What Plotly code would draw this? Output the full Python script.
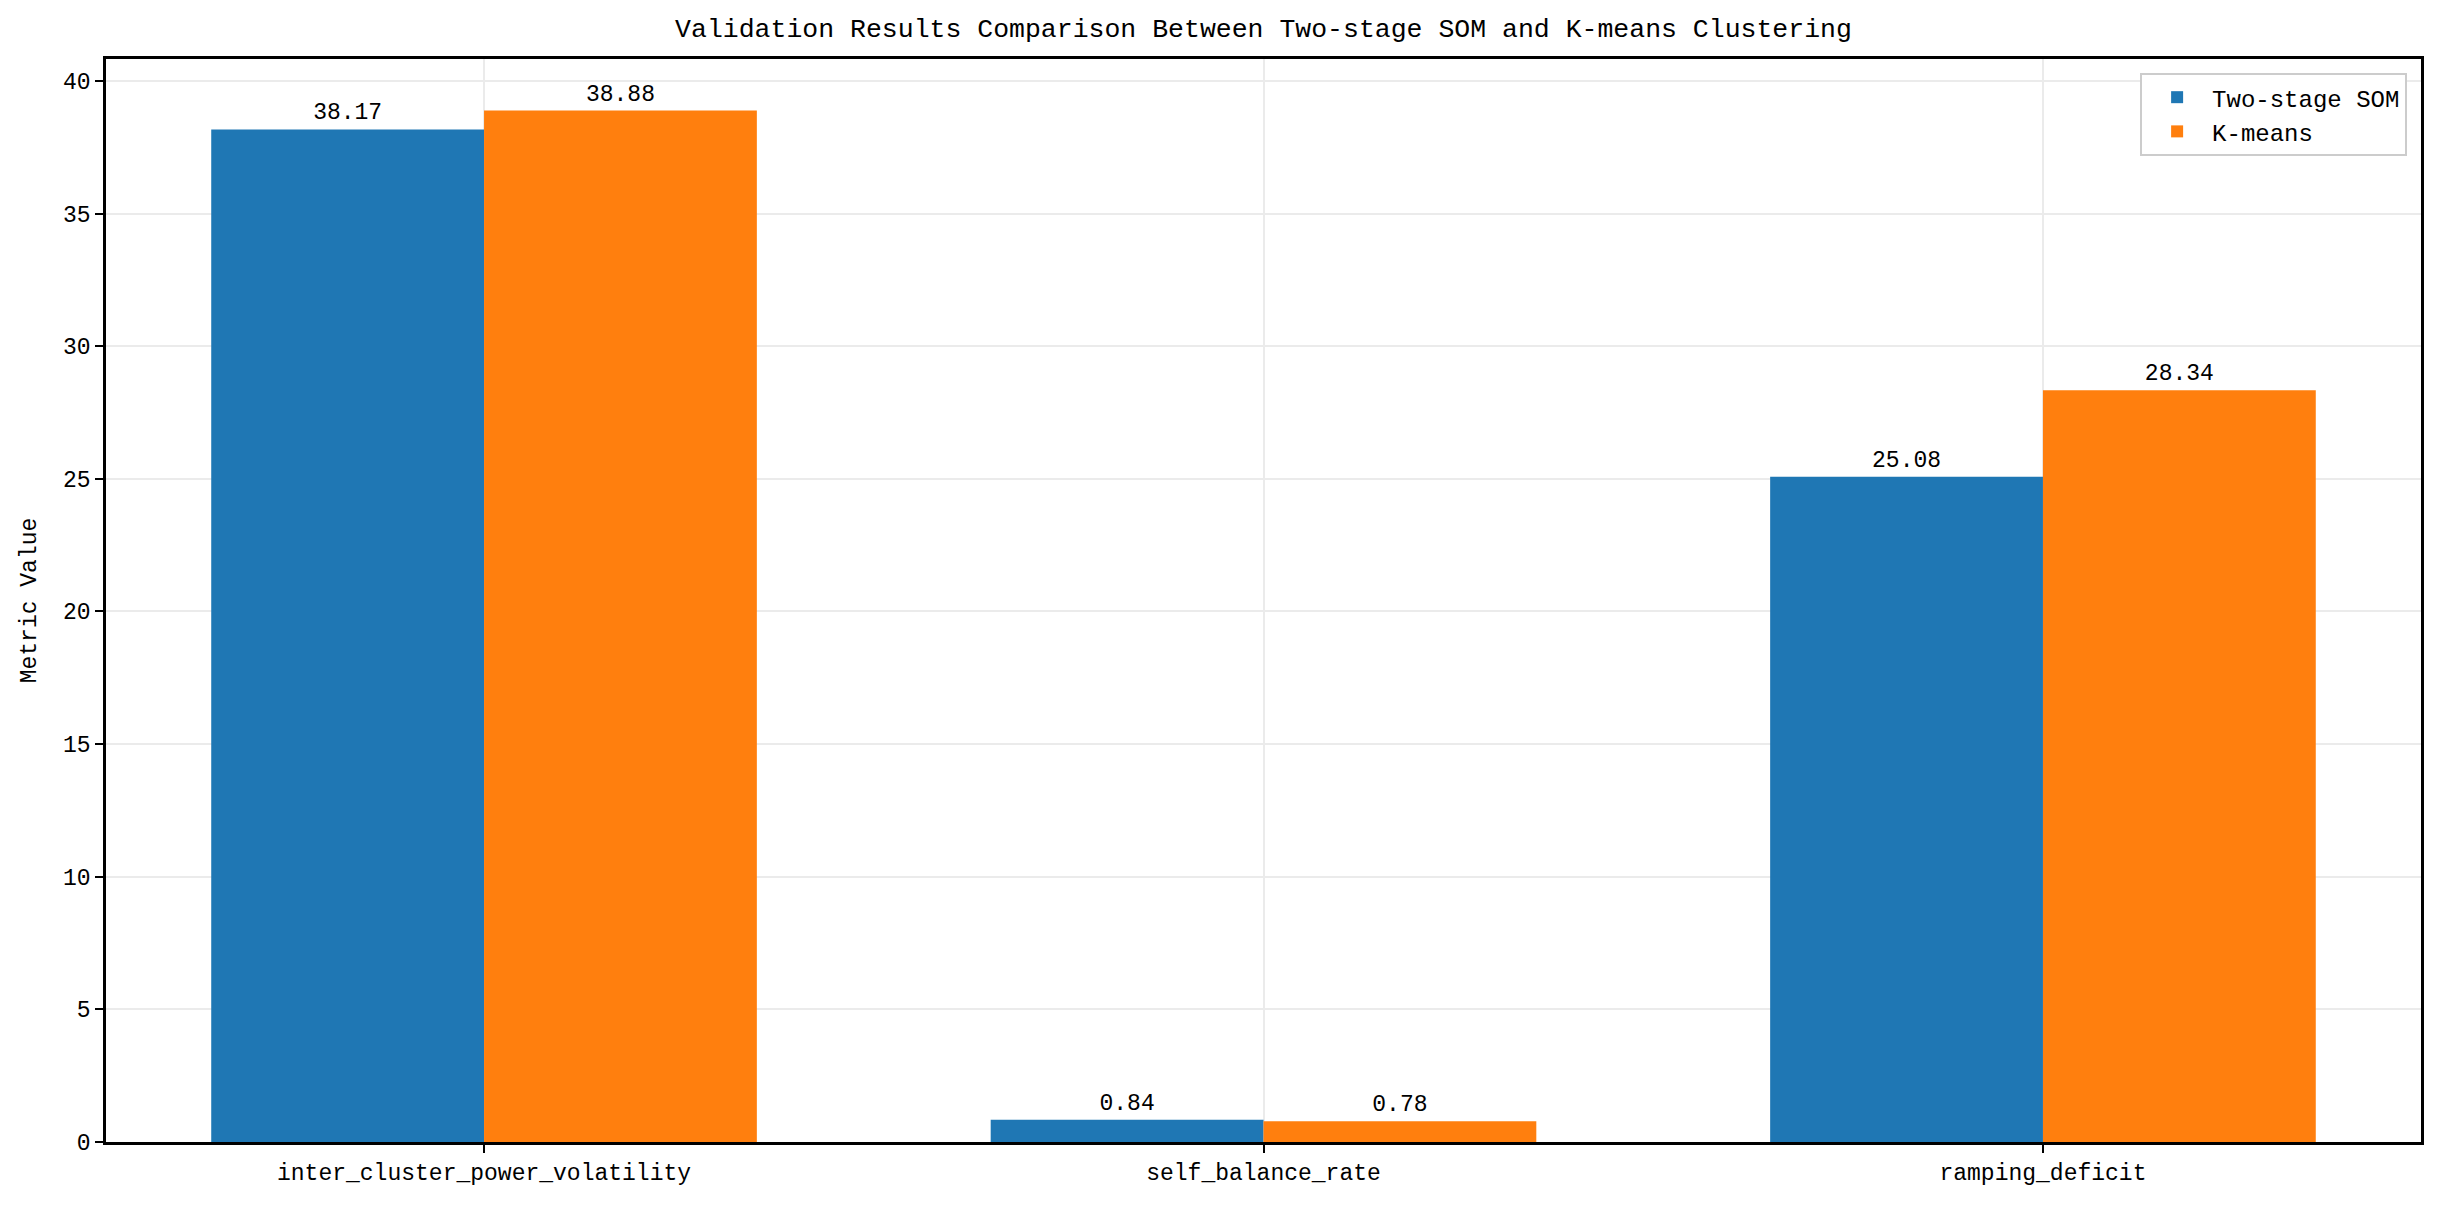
import plotly.graph_objects as go

categories = ["inter_cluster_power_volatility", "self_balance_rate", "ramping_deficit"]
som_values = [38.17, 0.84, 25.08]
kmeans_values = [38.88, 0.78, 28.34]
series_names = ["Two-stage SOM", "K-means"]
y_ticks = [0, 5, 10, 15, 20, 25, 30, 35, 40]

FONT = "Liberation Mono, DejaVu Sans Mono, monospace"

fig = go.Figure()
for name, vals, color in [(series_names[0], som_values, "#1f77b4"),
                          (series_names[1], kmeans_values, "#ff7f0e")]:
    fig.add_trace(go.Bar(
        x=list(range(len(categories))), y=vals, name=name,
        marker=dict(color=color, line=dict(width=0)),
        text=[f"{v:.2f}" for v in vals], textposition="outside",
        textfont=dict(family=FONT, size=23, color="black"),
        cliponaxis=False,
    ))

fig.update_layout(
    width=2449, height=1210,
    margin=dict(l=106, r=28, t=59, b=68),
    paper_bgcolor="white", plot_bgcolor="white",
    barmode="group", bargap=0.3, bargroupgap=0,
    font=dict(family=FONT, size=23, color="black"),
    title=dict(text="Validation Results Comparison Between Two-stage SOM and K-means Clustering",
               x=0.5, xanchor="center", xref="paper", y=1 - 28 / 1210, yanchor="middle",
               font=dict(family=FONT, size=26.5, color="black")),
    legend=dict(x=0.994, xanchor="right", y=0.987, yanchor="top",
                bgcolor="white", bordercolor="#cccccc", borderwidth=2,
                font=dict(family=FONT, size=24, color="black"),
                itemwidth=60, tracegroupgap=8),
    showlegend=True,
)
fig.update_xaxes(
    range=[-0.485, 2.485], tickmode="array",
    tickvals=list(range(len(categories))), ticktext=categories,
    showgrid=True, gridcolor="#ebebeb", gridwidth=1.5,
    showline=True, linecolor="black", linewidth=2.5, mirror=True,
    ticks="outside", ticklen=8, tickwidth=2, tickcolor="black",
    tickfont=dict(family=FONT, size=23, color="black"), zeroline=False,
)
fig.update_yaxes(
    range=[0, 40.824], tickmode="array", tickvals=y_ticks,
    ticktext=[str(t) for t in y_ticks],
    showgrid=True, gridcolor="#ebebeb", gridwidth=1.5,
    showline=True, linecolor="black", linewidth=2.5, mirror=True,
    ticks="outside", ticklen=8, tickwidth=2, tickcolor="black",
    tickfont=dict(family=FONT, size=23, color="black"), zeroline=False,
    title=dict(text="Metric Value", font=dict(family=FONT, size=23, color="black"), standoff=20),
)

fig.write_html("out.html")
